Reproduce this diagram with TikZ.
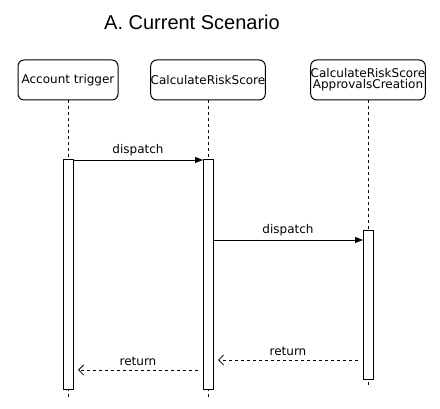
\documentclass[tikz,border=0pt]{standalone}
\usepackage{fontspec}
\setmainfont{DejaVu Sans}
\newfontfamily\titlefont{Liberation Sans}
\usetikzlibrary{arrows.meta}
\begin{document}
\begin{tikzpicture}[x=1pt,y=-1pt,
  actor/.style={draw,line width=1pt,rounded corners=6pt,minimum width=100pt,minimum height=40pt,inner sep=0pt,align=center,font=\fontsize{12}{13}\selectfont},
  life/.style={dash pattern=on 3pt off 3pt,line width=0.8pt},
  bar/.style={draw,fill=white,line width=1pt},
  call/.style={-{Triangle[length=8pt,width=6pt]},line width=0.9pt},
  ret/.style={-{Straight Barb[length=5pt,width=10pt]},dash pattern=on 3pt off 3pt,line width=0.8pt},
  lbl/.style={font=\fontsize{12}{13}\selectfont,inner sep=0pt}]
\useasboundingbox (0,0) rectangle (440,409);
\node[font=\titlefont\fontsize{20}{22}\selectfont] (title) at (192,22) {A. Current Scenario};
\node[actor] (a) at (68,80) {Account trigger};
\node[actor] (b) at (208,80) {CalculateRiskScore};
\node[actor] (c) at (368,80) {CalculateRiskScore\\[-2pt]ApprovalsCreation};
\coordinate (aend) at (68,398);
\coordinate (bend) at (208,398);
\coordinate (cend) at (368,388);
\draw[life] (a.south) -- (aend);
\draw[life] (b.south) -- (bend);
\draw[life] (c.south) -- (cend);
\node[bar,minimum width=10pt,minimum height=230pt,inner sep=0pt] (ab) at (68,275) {};
\node[bar,minimum width=10pt,minimum height=230pt,inner sep=0pt] (bb) at (208,275) {};
\node[bar,minimum width=10pt,minimum height=149pt,inner sep=0pt] (cb) at (368,305.5) {};
\coordinate (d1s) at (73,160);
\coordinate (d1e) at (203,160);
\draw[call] (d1s) -- node[lbl,above=4pt]{dispatch} (d1e);
\coordinate (d2s) at (213,240);
\coordinate (d2e) at (363,240);
\draw[call] (d2s) -- node[lbl,above=4pt]{dispatch} (d2e);
\coordinate (r1s) at (358,360);
\coordinate (r1e) at (218,360);
\draw[ret] (r1s) -- node[lbl,above=4pt]{return} (r1e);
\coordinate (r2s) at (198,370);
\coordinate (r2e) at (78,370);
\draw[ret] (r2s) -- node[lbl,above=4pt]{return} (r2e);
\end{tikzpicture}
\end{document}
